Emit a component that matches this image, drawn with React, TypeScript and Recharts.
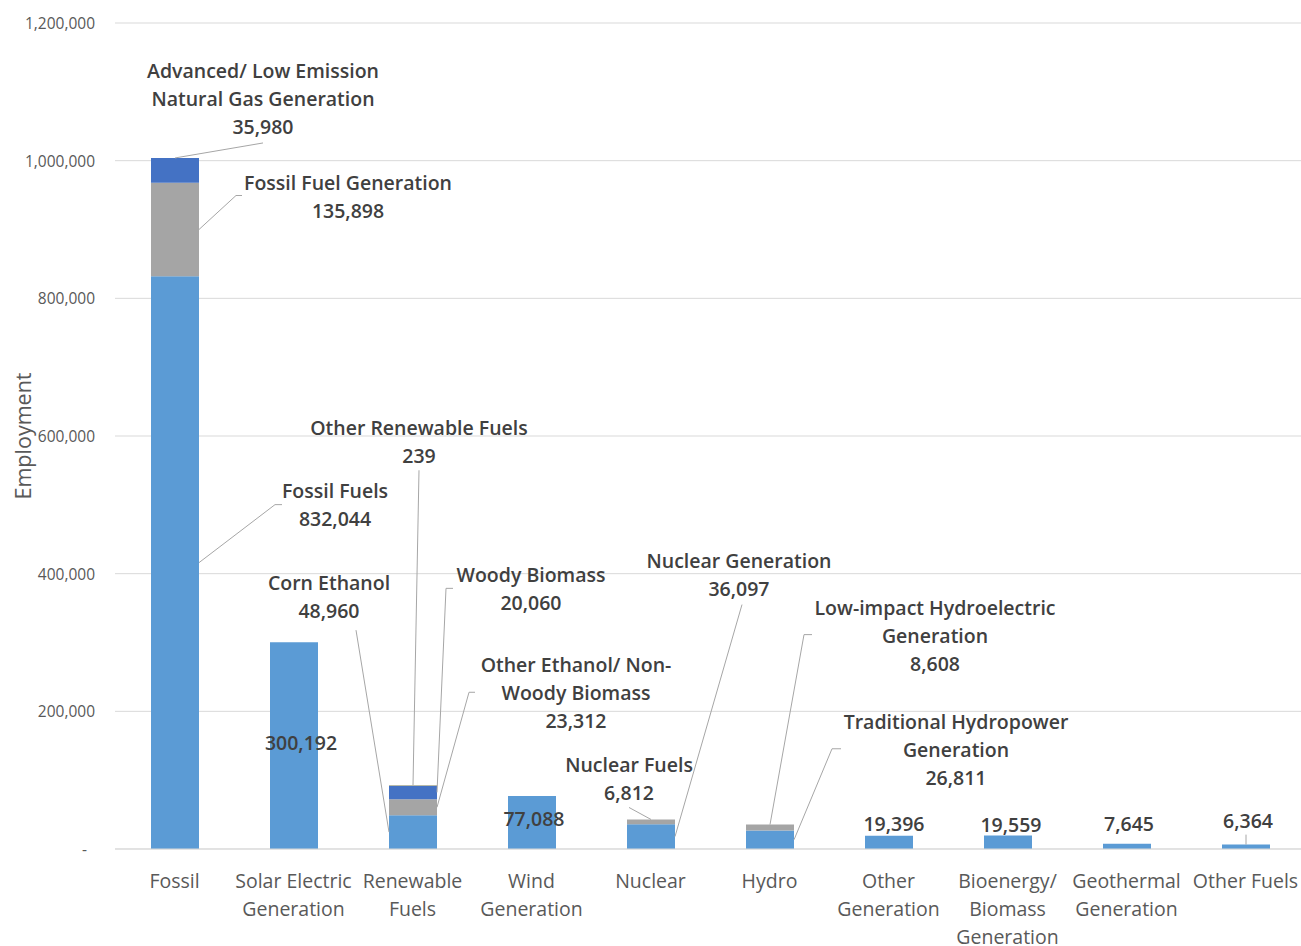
import { BarChart, Bar, XAxis, YAxis, CartesianGrid, LabelList } from 'recharts';

// Employment by energy technology (stacked segments per category)
const CATEGORIES = [
  'Fossil', 'Solar Electric Generation', 'Renewable Fuels', 'Wind Generation', 'Nuclear',
  'Hydro', 'Other Generation', 'Bioenergy/ Biomass Generation', 'Geothermal Generation', 'Other Fuels',
];
const TICK_LINES = [
  ['Fossil'], ['Solar Electric', 'Generation'], ['Renewable', 'Fuels'], ['Wind', 'Generation'], ['Nuclear'],
  ['Hydro'], ['Other', 'Generation'], ['Bioenergy/', 'Biomass', 'Generation'], ['Geothermal', 'Generation'], ['Other Fuels'],
];
const Y_TICKS = [0, 200000, 400000, 600000, 800000, 1000000, 1200000];

const PRIMARY = [832044, 300192, 48960, 77088, 36097, 26811, 19396, 19559, 7645, 6364];
const SECONDARY = [135898, 0, 23312, 0, 6812, 8608, 0, 0, 0, 0];
const TERTIARY = [35980, 0, 20060, 0, 0, 0, 0, 0, 0, 0];
const QUATERNARY = [0, 0, 239, 0, 0, 0, 0, 0, 0, 0];

// segment names ('|' = line break in the callout)
const PRIMARY_NAMES = ['Fossil Fuels', '', 'Corn Ethanol', '', 'Nuclear Generation', 'Traditional Hydropower|Generation', '', '', '', ''];
const SECONDARY_NAMES = ['Fossil Fuel Generation', '', 'Other Ethanol/ Non-|Woody Biomass', '', 'Nuclear Fuels', 'Low-impact Hydroelectric|Generation', '', '', '', ''];
const TERTIARY_NAMES = ['Advanced/ Low Emission|Natural Gas Generation', '', 'Woody Biomass', '', '', '', '', '', '', ''];
const QUATERNARY_NAMES = ['', '', 'Other Renewable Fuels', '', '', '', '', '', '', ''];

const DATA = CATEGORIES.map((name, i) => ({
  name,
  primary: PRIMARY[i],
  secondary: SECONDARY[i],
  tertiary: TERTIARY[i],
  quaternary: QUATERNARY[i],
}));

const NAMES: Record<string, string[]> = {
  primary: PRIMARY_NAMES,
  secondary: SECONDARY_NAMES,
  tertiary: TERTIARY_NAMES,
  quaternary: QUATERNARY_NAMES,
};
const VALUES: Record<string, number[]> = {
  primary: PRIMARY,
  secondary: SECONDARY,
  tertiary: TERTIARY,
  quaternary: QUATERNARY,
};

const FONT = "'Open Sans', 'Noto Sans', sans-serif";
const LABEL_COLOR = '#404040';
const AXIS_COLOR = '#595959';
const LEADER = '#A6A6A6';
const LINE_H = 28;

type Anchor = 'tc' | 'rm' | 'lm' | 'c';
interface Callout { anchor: Anchor; dx: number; dy: number; leader?: number[][] }

// callout placement relative to the segment anchor
const CALLOUTS: Record<string, Callout> = {
  'tertiary-0': { anchor: 'tc', dx: 88, dy: -87, leader: [[88, -15]] },
  'secondary-0': { anchor: 'rm', dx: 149, dy: -47, leader: [[37, -34], [43, -34]] },
  'primary-0': { anchor: 'rm', dx: 136, dy: -72, leader: [[76, -58], [83, -58]] },
  'primary-1': { anchor: 'c', dx: 7, dy: -3 },
  'primary-2': { anchor: 'lm', dx: -60, dy: -250, leader: [[-33, -202]] },
  'quaternary-2': { anchor: 'tc', dx: 6, dy: -358, leader: [[6, -315]] },
  'tertiary-2': { anchor: 'rm', dx: 94, dy: -218, leader: [[9, -204], [16, -204]] },
  'secondary-2': { anchor: 'rm', dx: 139, dy: -143, leader: [[32, -115], [38, -115]] },
  'primary-3': { anchor: 'c', dx: 2, dy: -4 },
  'secondary-4': { anchor: 'tc', dx: -22, dy: -55, leader: [[-22, -12]] },
  'primary-4': { anchor: 'rm', dx: 64, dy: -276, leader: [[67, -232]] },
  'secondary-5': { anchor: 'tc', dx: 165, dy: -217, leader: [[34, -190], [42, -190]] },
  'primary-5': { anchor: 'rm', dx: 162, dy: -118, leader: [[38, -91], [47, -91]] },
  'primary-6': { anchor: 'tc', dx: 5, dy: -12 },
  'primary-7': { anchor: 'tc', dx: 3, dy: -11 },
  'primary-8': { anchor: 'tc', dx: 2, dy: -20 },
  'primary-9': { anchor: 'tc', dx: 2, dy: -24, leader: [[0, -10]] },
};

const fmt = (v: number) => v.toLocaleString('en-US');

function makeCallout(series: string) {
  return (props: any) => {
    // value carries the category name (see valueAccessor) so zero-height segments don't shift indices
    const catIdx = CATEGORIES.indexOf(String(props.value));
    const idx = catIdx >= 0 ? catIdx : props.index;
    const c = CALLOUTS[`${series}-${idx}`];
    if (!c || !VALUES[series][idx]) return null;
    const vb = props.viewBox && props.viewBox.width !== undefined ? props.viewBox : props;
    const x = Number(vb.x), y = Number(vb.y), w = Number(vb.width), h = Number(vb.height);
    let ax = x + w / 2, ay = y;
    if (c.anchor === 'rm') { ax = x + w; ay = y + h / 2; }
    if (c.anchor === 'lm') { ax = x; ay = y + h / 2; }
    if (c.anchor === 'c') { ax = x + w / 2; ay = y + h / 2; }
    const name = NAMES[series][idx];
    const lines = [...(name ? name.split('|') : []), fmt(VALUES[series][idx])];
    const pts = c.leader ? [[0, 0], ...c.leader].map(([px, py]) => `${ax + px},${ay + py}`).join(' ') : null;
    return (
      <g key={`${series}-${idx}`}>
        {pts && <polyline points={pts} fill="none" stroke={LEADER} strokeWidth={1} />}
        {lines.map((t, i) => (
          <text
            key={i}
            x={ax + c.dx}
            y={ay + c.dy + i * LINE_H}
            textAnchor="middle"
            dominantBaseline="central"
            fontFamily={FONT}
            fontSize={19.5}
            fontWeight={600}
            fill={LABEL_COLOR}
          >
            {t}
          </text>
        ))}
      </g>
    );
  };
}

const XTick = (props: any) => {
  const { x, y, payload } = props;
  const lines = TICK_LINES[payload.index] ?? [String(payload.value)];
  return (
    <g>
      {lines.map((t, i) => (
        <text key={i} x={x} y={y + 31 + i * LINE_H} textAnchor="middle" dominantBaseline="central"
          fontFamily={FONT} fontSize={19.5} fill={AXIS_COLOR}>
          {t}
        </text>
      ))}
    </g>
  );
};

const YTick = (props: any) => {
  const { x, y, payload } = props;
  const v = payload.value as number;
  return (
    <text x={v === 0 ? x - 8 : x} y={y} textAnchor="end" dominantBaseline="central"
      fontFamily={FONT} fontSize={15.5} fill={AXIS_COLOR}>
      {v === 0 ? '-' : fmt(v)}
    </text>
  );
};

const YLabel = (props: any) => {
  const vb = props.viewBox || {};
  const cx = 22;
  const cy = vb.y + vb.height / 2;
  return (
    <text x={cx} y={cy} transform={`rotate(-90 ${cx} ${cy})`} textAnchor="middle" dominantBaseline="central"
      fontFamily={FONT} fontSize={21.5} fill={AXIS_COLOR}>
      Employment
    </text>
  );
};

const SERIES = [
  { key: 'primary', color: '#5B9BD5' },
  { key: 'secondary', color: '#A5A5A5' },
  { key: 'tertiary', color: '#4472C4' },
  { key: 'quaternary', color: '#FFC000' },
];

export default function App() {
  return (
    <div style={{ position: 'absolute', left: 0, top: 0, width: 1301, height: 946, overflow: 'hidden', background: '#fff' }}>
      <BarChart width={1310} height={946} data={DATA} margin={{ top: 23, right: 5, bottom: 0, left: 0 }} barSize={48}>
        <CartesianGrid vertical={false} stroke="#D9D9D9" />
        <XAxis
          dataKey="name"
          height={97}
          interval={0}
          tick={<XTick />}
          tickLine={false}
          tickSize={0}
          tickMargin={0}
          axisLine={{ stroke: '#D9D9D9' }}
        />
        <YAxis
          width={115}
          domain={[0, 1200000]}
          ticks={Y_TICKS}
          interval={0}
          tick={<YTick />}
          tickLine={false}
          axisLine={false}
          tickSize={0}
          tickMargin={20}
          label={<YLabel />}
        />
        {SERIES.map((s) => (
          <Bar key={s.key} dataKey={s.key} stackId="a" fill={s.color} isAnimationActive={false}>
            <LabelList
              valueAccessor={(entry: any) => entry?.payload?.name}
              content={makeCallout(s.key)}
            />
          </Bar>
        ))}
      </BarChart>
    </div>
  );
}
